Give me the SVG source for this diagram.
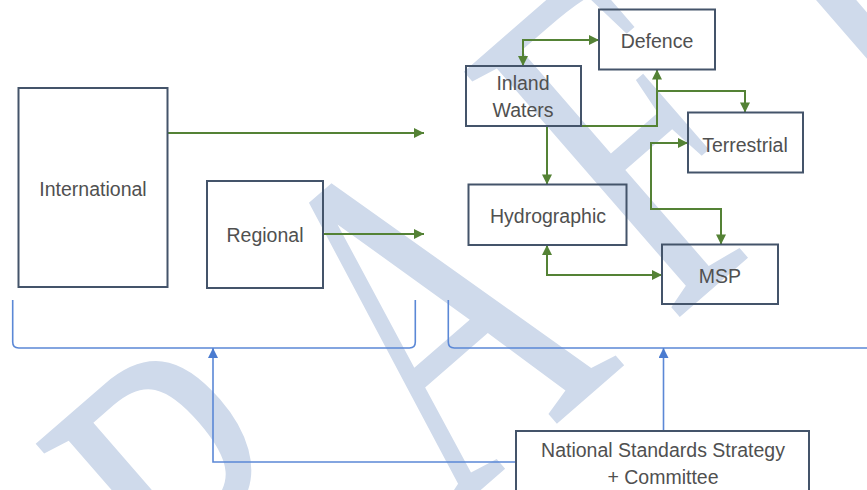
<svg xmlns="http://www.w3.org/2000/svg" width="867" height="490" viewBox="0 0 867 490">
  <defs>
    <style>
      .box { fill: none; stroke: #44546a; stroke-width: 2; }
      .lbl { font-family: "Liberation Sans", Arial, sans-serif; font-size: 19.5px; fill: #505050; text-anchor: middle; }
      .flow { fill: none; stroke: #548235; stroke-width: 2; }
      .feed { fill: none; stroke: #5b88d6; stroke-width: 1.6; }
      .mark { font-family: "Liberation Serif", "Times New Roman", serif; font-size: 322px; letter-spacing: 60px; fill: #cfdaeb; }
    </style>
    <marker id="ag" viewBox="0 0 10 10" refX="10" refY="5" markerWidth="11" markerHeight="10" markerUnits="userSpaceOnUse" orient="auto-start-reverse">
      <path d="M0,0 L10,5 L0,10 z" fill="#548235"/>
    </marker>
    <marker id="ab" viewBox="0 0 10 10" refX="10" refY="5" markerWidth="12" markerHeight="10" markerUnits="userSpaceOnUse" orient="auto-start-reverse">
      <path d="M0,0 L10,5 L0,10 z" fill="#4a7bd0"/>
    </marker>
  </defs>

  <rect width="867" height="490" fill="#ffffff"/>

  <!-- background watermark -->
  <text class="mark" transform="translate(22.3,888.5) rotate(-41) scale(1,1.55)">DRAFT</text>

  <!-- connectors -->
  <g id="connectors">
    <path class="flow" d="M167,133 H424" marker-end="url(#ag)"/>
    <path class="flow" d="M323,234 H424" marker-end="url(#ag)"/>
    <path class="flow" d="M523,66 V40 H599" marker-start="url(#ag)" marker-end="url(#ag)"/>
    <path class="flow" d="M547,126 V184.5" marker-end="url(#ag)"/>
    <path class="flow" d="M547,126 H657 V69.5" marker-end="url(#ag)"/>
    <path class="flow" d="M657,91 H745 V112.5" marker-end="url(#ag)"/>
    <path class="flow" d="M688,143 H651 V209 H721 V244.5" marker-start="url(#ag)" marker-end="url(#ag)"/>
    <path class="flow" d="M547,245 V275 H662" marker-start="url(#ag)" marker-end="url(#ag)"/>

    <path class="feed" d="M12.7,300 V342 Q12.7,348 18.7,348 H409.5 Q415.3,348 415.3,342 V300"/>
    <path class="feed" d="M448.3,300 V342 Q448.3,348 454.3,348 H870"/>
    <path class="feed" d="M663.5,430 V348" marker-end="url(#ab)"/>
    <path class="feed" d="M516,462 H213 V348" marker-end="url(#ab)"/>
  </g>

  <g id="international">
    <rect class="box" x="18.5" y="88" width="149" height="199"/>
    <text class="lbl" x="93" y="196">International</text>
  </g>
  <g id="regional">
    <rect class="box" x="207" y="181" width="116" height="107"/>
    <text class="lbl" x="265" y="242">Regional</text>
  </g>
  <g id="defence">
    <rect class="box" x="599" y="9.5" width="116" height="60"/>
    <text class="lbl" x="657" y="48">Defence</text>
  </g>
  <g id="inland-waters">
    <rect class="box" x="466" y="66" width="115" height="60"/>
    <text class="lbl" x="523" y="90">Inland</text>
    <text class="lbl" x="523" y="117">Waters</text>
  </g>
  <g id="terrestrial">
    <rect class="box" x="688" y="112.5" width="115" height="60"/>
    <text class="lbl" x="745" y="152">Terrestrial</text>
  </g>
  <g id="hydrographic">
    <rect class="box" x="468.5" y="184.5" width="158" height="60.5"/>
    <text class="lbl" x="548" y="223">Hydrographic</text>
  </g>
  <g id="msp">
    <rect class="box" x="662" y="244.5" width="116" height="59.5"/>
    <text class="lbl" x="720" y="283">MSP</text>
  </g>
  <g id="national-strategy">
    <rect class="box" x="516" y="431" width="293" height="70"/>
    <text class="lbl" x="663" y="457">National Standards Strategy</text>
    <text class="lbl" x="663" y="484">+ Committee</text>
  </g>
</svg>
